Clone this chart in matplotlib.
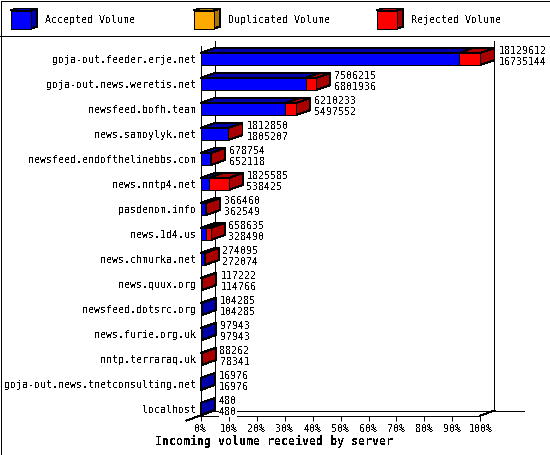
import matplotlib as mpl
mpl.use('Agg')
import matplotlib.pyplot as plt

mpl.rc('font', family=['DejaVu Sans Mono'], size=7.2)
mpl.rc('text', antialiased=False)
mpl.rc('lines', antialiased=False)
mpl.rc('patch', antialiased=False)

servers = ['goja-out.feeder.erje.net', 'goja-out.news.weretis.net', 'newsfeed.bofh.team',
           'news.samoylyk.net', 'newsfeed.endofthelinebbs.com', 'news.nntp4.net',
           'pasdenom.info', 'news.1d4.us', 'news.chmurka.net', 'news.quux.org',
           'newsfeed.dotsrc.org', 'news.furie.org.uk', 'nntp.terraraq.uk',
           'goja-out.news.tnetconsulting.net', 'localhost']
total = [18129612, 7506215, 6210233, 1812850, 678754, 1825585, 366460, 658635,
         274095, 117222, 104285, 97943, 88262, 16976, 480]
accepted = [16735144, 6801936, 5497552, 1805207, 652118, 538425, 362549, 328490,
            272074, 114766, 104285, 97943, 78341, 16976, 480]
legend_names = ['Accepted Volume', 'Duplicated Volume', 'Rejected Volume']
pct_ticks = [0, 10, 20, 30, 40, 50, 60, 70, 80, 90, 100]

BLUE, DBLUE = '#0000ff', '#0000aa'
ORANGE, DORANGE = '#ffaa00', '#aa7700'
RED, DRED = '#ff0000', '#aa0000'
LW = 0.72  # one pixel at dpi 100

W, H = 550, 455
fig = plt.figure(figsize=(W / 100, H / 100), dpi=100, facecolor='white')

# --- page furniture and legend, in pixel coordinates ---
page = fig.add_axes([0, 0, 1, 1], zorder=0)
page.set_xlim(0, W)
page.set_ylim(H, 0)
page.axis('off')
page.plot([0.5, W - 0.5, W - 0.5, 0.5, 0.5], [0.5, 0.5, H - 0.5, H - 0.5, 0.5], color='k', lw=LW)
page.plot([0, W], [35.5, 35.5], color='k', lw=LW)


def box(ax, x0, x1, y0, y1, dx, dy, face, dark, side=True, z=2):
    # front, top and right side of one bar segment; dy is negative going "up" on screen
    if side:
        ax.fill([x1, x1 + dx, x1 + dx, x1], [y0, y0 + dy, y1 + dy, y1],
                facecolor=dark, edgecolor='k', lw=LW, clip_on=False, zorder=z)
    ax.fill([x0, x0 + dx, x1 + dx, x1], [y0, y0 + dy, y0 + dy, y0],
            facecolor=dark, edgecolor='k', lw=LW, clip_on=False, zorder=z)
    ax.fill([x0, x1, x1, x0], [y0, y0, y1, y1],
            facecolor=face, edgecolor='k', lw=LW, clip_on=False, zorder=z)


for x, name, face, dark in zip([10.5, 193.5, 376.5], legend_names,
                               [BLUE, ORANGE, RED], [DBLUE, DORANGE, DRED]):
    box(page, x, x + 20.5, 10.5, 28.5, 6, -2, face, dark)
    page.text(x + 34.5, 20, name, ha='left', va='center')

fig.text(274 / W, 1 - 441 / H, 'Incoming volume received by server', ha='center', va='center',
         fontsize=8.4, fontweight='bold')

# --- chart area: x in percent of the largest total, y in rows ---
LEFT, RIGHT, TOP, BOTTOM = 200.5, 480.5, 45.5, 415.5
ax = fig.add_axes([LEFT / W, 1 - BOTTOM / H, (RIGHT - LEFT) / W, (BOTTOM - TOP) / H], zorder=1)
ax.patch.set_visible(False)
ROW = 25.0
ax.set_xlim(0, 100)
ax.set_ylim((BOTTOM - 59) / ROW, (TOP - 59) / ROW)
dx = 14.0 / (RIGHT - LEFT) * 100
dy = -5.0 / ROW
half = 6.0 / ROW

for side in ['top', 'right']:
    ax.spines[side].set_visible(False)
for side in ['left', 'bottom']:
    ax.spines[side].set_linewidth(LW)
ax.set_yticks(range(len(servers)), servers)
ax.tick_params(axis='y', length=0, pad=3.2)
ax.set_xticks(pct_ticks, ['{}%'.format(p) for p in pct_ticks])
ax.tick_params(axis='x', length=3.6, width=LW, pad=2.6)

# back wall and floor
y_floor = ax.get_ylim()[0]
y_top = ax.get_ylim()[1]
ax.plot([dx, dx], [y_floor + dy, y_top + dy], color='k', lw=LW, clip_on=False, zorder=1)
ax.plot([100 + dx, 100 + dx], [y_floor + dy, y_top + dy], color='k', lw=LW, clip_on=False, zorder=1)
ax.plot([dx, 100 + dx + 10.4], [y_floor + dy, y_floor + dy], color='k', lw=LW, clip_on=False, zorder=1)
ax.plot([-dx, dx], [y_floor - dy, y_floor + dy], color='k', lw=LW, clip_on=False, zorder=1)
ax.plot([100, 100 + dx], [y_floor, y_floor + dy], color='k', lw=LW, clip_on=False, zorder=1)

vmax = max(total)
for i, (t, a) in enumerate(zip(total, accepted)):
    xa = a / vmax * 100
    xt = t / vmax * 100
    box(ax, 0, xa, i - half, i + half, dx, dy, BLUE, DBLUE)
    if t > a:
        box(ax, xa, xt, i - half, i + half, dx, dy, RED, DRED)
    for val, off in [(t, 8), (a, -3)]:
        ax.annotate(str(val), xy=(xt + dx, i), xytext=(4, off), xycoords='data',
                    textcoords='offset pixels', ha='left', va='center', zorder=4,
                    annotation_clip=False,
                    bbox=dict(facecolor='white', edgecolor='none', pad=0))

fig.savefig('out.png', dpi=100)
